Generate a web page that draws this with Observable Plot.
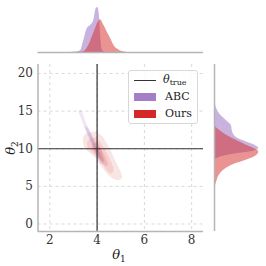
<!DOCTYPE html>
<html><head><meta charset="utf-8">
<script src="https://cdn.jsdelivr.net/npm/d3@7"></script>
<script src="https://cdn.jsdelivr.net/npm/@observablehq/plot@0.6"></script>
<style>
body{margin:0;background:#fff;}
#chart{position:relative;width:266px;height:266px;overflow:hidden;font-family:"DejaVu Serif",serif;color:#333;}
#chart svg{position:absolute;left:0;top:0;}
.lbl{position:absolute;font-size:13px;color:#222;white-space:nowrap;transform:translate(-50%,-50%);}
.lbl i{font-style:italic;}
.lbl sub{font-size:9px;vertical-align:-3px;}
#legend{position:absolute;left:128px;top:70px;width:68px;height:52px;border:1px solid #d8d8d8;border-radius:3px;background:rgba(255,255,255,0.85);font-size:11px;color:#222;}
#legend .sw{position:absolute;left:5px;width:22px;}
#legend .tx{position:absolute;left:36px;white-space:nowrap;line-height:12px;}
#legend sub{font-size:8px;vertical-align:-2px;}
</style></head><body><div id="chart"></div>
<script>
// ---- data ----
const seriesNames = ["ABC", "Ours"];
const seriesColors = ["#9467bd", "#d62728"];
const theta1True = 4;
const theta2True = 10;
const xTicks = [2, 4, 6, 8];
const yTicks = [0, 5, 10, 15, 20];
const xDomain = [1.5, 8.5];
const yDomain = [-1, 21.2];

// top marginal: density of theta1 (relative)
const topABCTheta = [2.85, 3.1, 3.3, 3.44, 3.58, 3.72, 3.86, 3.96, 4.03, 4.11, 4.16, 4.22, 4.35];
const topABCDens  = [0, 0.01, 0.04, 0.27, 0.53, 0.6, 0.71, 0.97, 1.0, 0.75, 0.3, 0.05, 0];
const topOursTheta = [3.1, 3.4, 3.52, 3.65, 3.79, 3.93, 4.05, 4.14, 4.29, 4.43, 4.58, 4.72, 4.9, 5.05, 5.27];
const topOursDens  = [0, 0.01, 0.05, 0.16, 0.34, 0.53, 0.68, 0.73, 0.6, 0.45, 0.30, 0.15, 0.06, 0.02, 0];

// right marginal: density of theta2 (relative)
const rightABCTheta = [16.6, 15.5, 14.7, 13.8, 13.1, 12.2, 11.35, 10.9, 10.5, 10.03, 9.7, 9.3, 8.9, 8.5];
const rightABCDens  = [0, 0.04, 0.11, 0.26, 0.38, 0.41, 0.53, 0.72, 0.9, 1.0, 0.9, 0.45, 0.14, 0];
const rightOursTheta = [13.1, 12.45, 11.35, 10.46, 10.0, 9.58, 8.9, 8.48, 8.04, 7.38, 6.5, 5.4, 4.7];
const rightOursDens  = [0, 0.11, 0.41, 0.72, 0.9, 1.0, 0.9, 0.72, 0.49, 0.26, 0.11, 0.04, 0];

// joint density contour regions [theta1, theta2], outer to inner
const oursLevel1 = [[3.45,11.8],[3.66,12.15],[3.95,12.25],[4.23,11.6],[4.45,10.5],[4.6,9.6],[4.8,8.2],[5.0,6.9],[5.05,6.1],[4.88,5.8],[4.5,6.4],[4.2,7.6],[3.95,8.7],[3.6,9.7],[3.45,10.3],[3.4,11.2]];
const oursLevel2 = [[3.6,11.0],[3.85,11.5],[4.1,11.0],[4.35,9.8],[4.55,8.5],[4.7,7.2],[4.6,6.7],[4.4,7.2],[4.15,8.3],[3.85,9.3],[3.6,10.2]];
const oursLevel3 = [[3.8,10.6],[4.0,10.8],[4.2,9.8],[4.4,8.5],[4.45,7.8],[4.3,7.8],[4.1,8.7],[3.85,9.7]];
const oursLevel4 = [[3.95,10.3],[4.1,10.2],[4.25,9.0],[4.3,8.3],[4.2,8.4],[4.05,9.3],[3.9,10.0]];
const abcLevel1 = [[3.22,15.0],[3.32,15.1],[3.55,13.3],[3.85,11.3],[4.1,9.6],[4.25,8.2],[4.15,7.9],[4.0,9.0],[3.75,10.8],[3.5,12.5],[3.3,14.2]];
const abcLevel2 = [[3.5,13.0],[3.6,12.8],[3.9,10.8],[4.15,9.0],[4.1,8.6],[3.95,9.6],[3.7,11.3]];

// ---- build ----
const zip = (a, b) => a.map((t, i) => ({t, d: b[i]}));
const chartEl = document.getElementById("chart");
const baseStyle = {background: "transparent", fontFamily: "DejaVu Serif", fontSize: "12px", color: "#333", overflow: "visible"};
const spine = {stroke: "#b5b5b5", strokeWidth: 1.5};
const grid = {stroke: "#cfcfcf", strokeDasharray: "3,3", strokeWidth: 0.8};
const poly = (pts, color, op) => Plot.line(pts, {x: d => d[0], y: d => d[1], fill: color, fillOpacity: op, stroke: null, curve: "catmull-rom-closed"});

const mainPlot = Plot.plot({
  width: 266, height: 266,
  marginLeft: 37.5, marginRight: 63, marginTop: 64, marginBottom: 35,
  x: {domain: xDomain, ticks: xTicks, tickFormat: "d", tickSize: 0, tickPadding: 4, label: null},
  y: {domain: yDomain, ticks: yTicks, tickFormat: "d", tickSize: 0, tickPadding: 5, label: null},
  style: baseStyle,
  marks: [
    Plot.ruleX(xTicks, grid),
    Plot.ruleY(yTicks, grid),
    poly(oursLevel1, seriesColors[1], 0.12),
    poly(oursLevel2, seriesColors[1], 0.12),
    poly(oursLevel3, seriesColors[1], 0.15),
    poly(oursLevel4, seriesColors[1], 0.18),
    poly(abcLevel1, seriesColors[0], 0.16),
    poly(abcLevel2, seriesColors[0], 0.22),
    Plot.ruleX([theta1True], {stroke: "#333", strokeWidth: 1.2}),
    Plot.ruleY([theta2True], {stroke: "#333", strokeWidth: 1.2}),
    Plot.ruleX([xDomain[0]], spine),
    Plot.ruleY([yDomain[0]], spine)
  ]
});

const topPlot = Plot.plot({
  width: 266, height: 266,
  marginLeft: 37.5, marginRight: 63, marginTop: 7, marginBottom: 214,
  x: {domain: xDomain, axis: null},
  y: {domain: [0, 1], axis: null},
  style: baseStyle,
  marks: [
    Plot.areaY(zip(topABCTheta, topABCDens), {x: "t", y: "d", fill: seriesColors[0], fillOpacity: 0.5, curve: "monotone-x"}),
    Plot.areaY(zip(topOursTheta, topOursDens), {x: "t", y: "d", fill: seriesColors[1], fillOpacity: 0.5, curve: "monotone-x"}),
    Plot.ruleY([0], spine)
  ]
});

const rightPlot = Plot.plot({
  width: 266, height: 266,
  marginLeft: 214, marginRight: 7.7, marginTop: 64, marginBottom: 35,
  x: {domain: [0, 1], axis: null},
  y: {domain: yDomain, axis: null},
  style: baseStyle,
  marks: [
    Plot.areaX(zip(rightABCTheta, rightABCDens), {y: "t", x: "d", fill: seriesColors[0], fillOpacity: 0.5, curve: "monotone-y"}),
    Plot.areaX(zip(rightOursTheta, rightOursDens), {y: "t", x: "d", fill: seriesColors[1], fillOpacity: 0.5, curve: "monotone-y"}),
    Plot.ruleX([0], spine)
  ]
});

chartEl.append(mainPlot, topPlot, rightPlot);

// axis labels
const xl = document.createElement("div");
xl.className = "lbl"; xl.style.left = "119px"; xl.style.top = "255px";
xl.innerHTML = "<i>θ</i><sub>1</sub>";
const yl = document.createElement("div");
yl.className = "lbl"; yl.style.left = "11px"; yl.style.top = "148px";
yl.style.transform = "translate(-50%,-50%) rotate(-90deg)";
yl.innerHTML = "<i>θ</i><sub>2</sub>";
chartEl.append(xl, yl);

// legend
const lg = document.createElement("div");
lg.id = "legend";
let html = '<div class="sw" style="top:9px;height:1.3px;background:#333"></div>' +
  '<div class="tx" style="top:3px;left:34px"><i>θ</i><sub>true</sub></div>';
seriesNames.forEach((n, i) => {
  const y = 22 + i * 17;
  html += `<div class="sw" style="top:${y}px;height:8px;background:${seriesColors[i]};opacity:${i === 0 ? 0.85 : 1}"></div>` +
    `<div class="tx" style="top:${y - 2}px">${n}</div>`;
});
lg.innerHTML = html;
chartEl.append(lg);
</script></body></html>
